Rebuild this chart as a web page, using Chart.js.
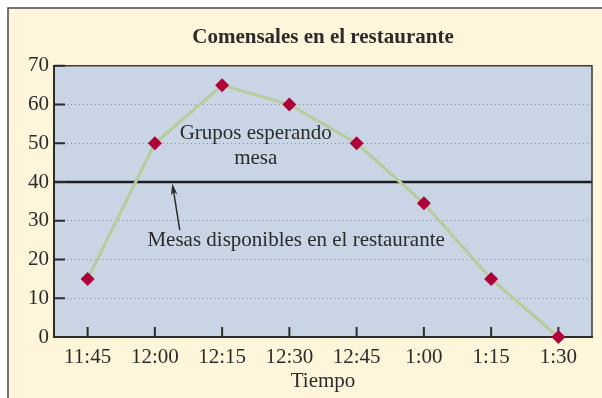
<!DOCTYPE html>
<html>
<head>
<meta charset="utf-8">
<script src="https://cdn.jsdelivr.net/npm/chart.js@4/dist/chart.umd.min.js"></script>
<style>
  html, body { margin: 0; padding: 0; background: #ffffff; }
  canvas { display: block; }
</style>
</head>
<body>
<canvas id="diners" width="602" height="398"></canvas>
<script>
const times = ['11:45', '12:00', '12:15', '12:30', '12:45', '1:00', '1:15', '1:30'];
const waitingGroups = [15, 50, 65, 60, 50, 34.5, 15, 0];
const tablesAvailable = 40;
const yTicks = [0, 10, 20, 30, 40, 50, 60, 70];

// text notes placed in data coordinates (category index, value)
const notes = [
    { text: 'Grupos esperando', x: 2.5, y: 51.1 },
    { text: 'mesa', x: 2.5, y: 44.7 },
    { text: 'Mesas disponibles en el restaurante', x: 3.1, y: 23.5 }
];
const arrowNote = { from: [1.37, 27.6], to: [1.26, 39.6] };

const serif = "'Liberation Serif', 'Times New Roman', serif";
const ink = '#2b2b2b';

const framePlugin = {
    id: 'frame',
    beforeDraw(chart) {
        const ctx = chart.ctx;
        const a = chart.chartArea;
        ctx.save();
        ctx.fillStyle = '#ffffff';
        ctx.fillRect(0, 0, chart.width, chart.height);
        ctx.fillStyle = '#fef5da';
        ctx.fillRect(8, 8, chart.width, chart.height);
        ctx.strokeStyle = '#4a4a4a';
        ctx.lineWidth = 1.5;
        ctx.beginPath();
        ctx.moveTo(8, chart.height);
        ctx.lineTo(8, 8);
        ctx.lineTo(chart.width, 8);
        ctx.stroke();
        ctx.fillStyle = '#c9d5e4';
        ctx.fillRect(a.left, a.top, a.right - a.left, a.bottom - a.top);
        ctx.restore();
    },
    beforeDatasetsDraw(chart) {
        const ctx = chart.ctx;
        const a = chart.chartArea;
        const x = chart.scales.x;
        const y = chart.scales.y;
        ctx.save();
        // available tables line
        const py = y.getPixelForValue(tablesAvailable);
        ctx.strokeStyle = '#1e1e1e';
        ctx.lineWidth = 2.5;
        ctx.beginPath();
        ctx.moveTo(a.left, py);
        ctx.lineTo(a.right, py);
        ctx.stroke();
        // top and right edges of the plot
        ctx.strokeStyle = '#3a3a3a';
        ctx.lineWidth = 1.5;
        ctx.beginPath();
        ctx.moveTo(a.left, a.top);
        ctx.lineTo(a.right, a.top);
        ctx.lineTo(a.right, a.bottom);
        ctx.stroke();
        // inward tick marks
        ctx.strokeStyle = ink;
        ctx.lineWidth = 2;
        ctx.beginPath();
        y.ticks.forEach((t, i) => {
            const p = y.getPixelForTick(i);
            ctx.moveTo(a.left, p);
            ctx.lineTo(a.left + 11, p);
        });
        x.ticks.forEach((t, i) => {
            const p = x.getPixelForTick(i);
            ctx.moveTo(p, a.bottom);
            ctx.lineTo(p, a.bottom - 10);
        });
        ctx.stroke();
        ctx.restore();
    },
    afterDraw(chart) {
        const ctx = chart.ctx;
        const x = chart.scales.x;
        const y = chart.scales.y;
        ctx.save();
        ctx.fillStyle = ink;
        ctx.font = '21px ' + serif;
        ctx.textAlign = 'center';
        ctx.textBaseline = 'alphabetic';
        notes.forEach(n => {
            ctx.fillText(n.text, x.getPixelForValue(n.x), y.getPixelForValue(n.y));
        });
        // arrow
        const x1 = x.getPixelForValue(arrowNote.from[0]);
        const y1 = y.getPixelForValue(arrowNote.from[1]);
        const x2 = x.getPixelForValue(arrowNote.to[0]);
        const y2 = y.getPixelForValue(arrowNote.to[1]);
        const ang = Math.atan2(y2 - y1, x2 - x1);
        const head = 12;
        ctx.strokeStyle = ink;
        ctx.lineWidth = 1.5;
        ctx.beginPath();
        ctx.moveTo(x1, y1);
        ctx.lineTo(x2 - Math.cos(ang) * 6, y2 - Math.sin(ang) * 6);
        ctx.stroke();
        ctx.beginPath();
        ctx.moveTo(x2, y2);
        ctx.lineTo(x2 - head * Math.cos(ang - 0.28), y2 - head * Math.sin(ang - 0.28));
        ctx.lineTo(x2 - head * 0.7 * Math.cos(ang), y2 - head * 0.7 * Math.sin(ang));
        ctx.lineTo(x2 - head * Math.cos(ang + 0.28), y2 - head * Math.sin(ang + 0.28));
        ctx.closePath();
        ctx.fill();
        ctx.restore();
    }
};

new Chart(document.getElementById('diners'), {
    type: 'line',
    data: {
        labels: times,
        datasets: [{
            label: 'Grupos esperando mesa',
            data: waitingGroups,
            borderColor: '#b4cd9a',
            borderWidth: 3,
            tension: 0,
            pointStyle: 'rectRot',
            pointRadius: 7,
            pointHoverRadius: 7,
            pointBackgroundColor: '#b0003a',
            pointBorderWidth: 0,
            clip: false
        }]
    },
    options: {
        responsive: false,
        animation: false,
        events: [],
        layout: { padding: { left: 8, right: 10, top: 0, bottom: 0 } },
        plugins: {
            legend: { display: false },
            tooltip: { enabled: false },
            title: {
                display: true,
                fullSize: false,
                text: 'Comensales en el restaurante',
                color: ink,
                font: { family: serif, size: 21, weight: 'bold' },
                padding: { top: 25, bottom: 15.6 }
            }
        },
        scales: {
            x: {
                type: 'category',
                offset: true,
                afterFit(scale) { scale.height = 61; },
                grid: { display: false, drawTicks: false, offset: false },
                border: { display: true, color: ink, width: 2 },
                ticks: {
                    color: ink,
                    padding: 8,
                    font: { family: serif, size: 21 }
                },
                title: {
                    display: true,
                    text: 'Tiempo',
                    color: ink,
                    font: { family: serif, size: 21 },
                    padding: { top: 0, bottom: 4 }
                }
            },
            y: {
                min: 0,
                max: 70,
                afterFit(scale) { scale.width = 46; },
                afterBuildTicks(scale) { scale.ticks = yTicks.map(v => ({ value: v })); },
                grid: {
                    drawTicks: false,
                    lineWidth: 1,
                    color: ctx => (ctx.tick && (ctx.tick.value === 0 || ctx.tick.value === 70 || ctx.tick.value === tablesAvailable)) ? 'rgba(0,0,0,0)' : '#8593a3'
                },
                border: { display: true, color: ink, width: 2, dash: [1, 3] },
                ticks: {
                    color: ink,
                    padding: 5,
                    font: { family: serif, size: 21 }
                }
            }
        }
    },
    plugins: [framePlugin]
});
</script>
</body>
</html>
